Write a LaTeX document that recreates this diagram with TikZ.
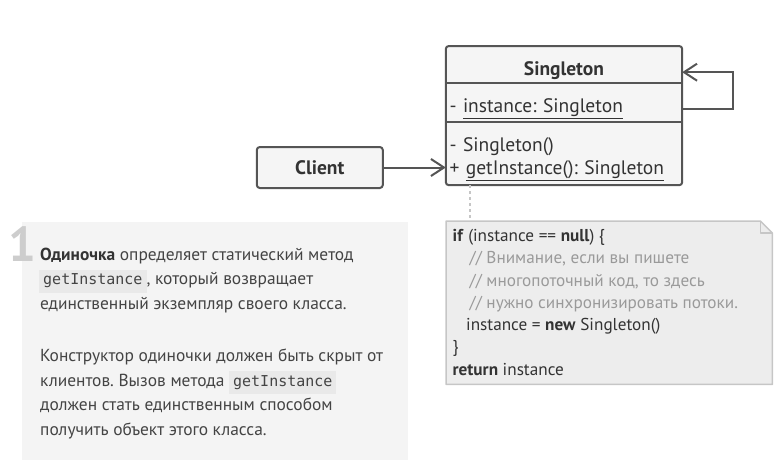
\documentclass[tikz,border=0pt]{standalone}
\usepackage{fontspec}
\setmainfont{PT Sans}
\setmonofont{DejaVu Sans Mono}
\frenchspacing
\usetikzlibrary{positioning,arrows.meta,backgrounds}

\definecolor{linegray}{HTML}{555555}
\definecolor{boxfill}{HTML}{F5F5F5}
\definecolor{textgray}{HTML}{333333}
\definecolor{bodygray}{HTML}{444444}
\definecolor{commentgray}{HTML}{9A9A9A}
\definecolor{panelfill}{HTML}{F4F4F4}
\definecolor{chipfill}{HTML}{E9E9E9}
\definecolor{notefill}{HTML}{EDEDED}
\definecolor{noteline}{HTML}{C6C6C6}
\definecolor{numbergray}{HTML}{CDCDCD}

\newcommand{\codechip}[1]{{\setlength{\fboxsep}{4pt}\smash{\colorbox{chipfill}{\rule[-4pt]{0pt}{13pt}\ttfamily\fontsize{15}{15}\selectfont #1}}}}
\newcommand{\umlstrut}{\rule{0pt}{26pt}}

\tikzset{
  uml/.style={draw=linegray, line width=2pt, fill=boxfill},
  umlpart/.style={minimum width=236pt, inner sep=0pt, text=textgray, font=\fontsize{19.5}{23}\selectfont},
  assoc/.style={draw=linegray, line width=2pt, -{Straight Barb[length=13pt,width=17pt]}},
  noteconn/.style={draw=noteline, line width=1.5pt, dash pattern=on 3pt off 3pt},
  noteframe/.style={draw=noteline, line width=1.5pt, fill=notefill, line join=round},
  codetext/.style={inner sep=0pt, align=left, text=textgray, font=\fontsize{17.2}{22.3}\selectfont},
  desctext/.style={inner sep=0pt, align=left, text=bodygray, font=\fontsize{17.4}{24.5}\selectfont},
}

\begin{document}
\begin{tikzpicture}[x=1pt,y=-1pt]
  \useasboundingbox (0,0) rectangle (780,475);

  % --- Singleton class ---
  \node (head) [umlpart, anchor=north, minimum height=37pt, font=\fontsize{19.5}{23}\selectfont\bfseries] at (564,46) {\umlstrut Singleton};
  \node (attr) [umlpart, below=0pt of head, minimum height=38pt, text width=229pt, align=left] {\umlstrut - \underline{instance: Singleton}};
  \node (meth) [umlpart, below=0pt of attr, minimum height=63pt, text width=229pt, align=left] {\umlstrut - Singleton()\\+ \underline{getInstance(): Singleton}};
  \begin{scope}[on background layer]
    \draw[uml, rounded corners=3pt] (head.north west) rectangle (meth.south east);
  \end{scope}
  \draw[uml, fill=none] (attr.north west) -- (attr.north east);
  \draw[uml, fill=none] (attr.south west) -- (attr.south east);

  % --- Client ---
  \node (client) [uml, rounded corners=3pt, anchor=east, minimum width=126pt, minimum height=41pt, text=textgray, font=\fontsize{19.5}{23}\selectfont\bfseries] at ([xshift=-62pt,yshift=-14pt]meth.west) {Client};

  % --- Associations ---
  \draw[assoc] (client.east) -- (client.east -| meth.west);
  \draw[assoc] ([yshift=-6pt]attr.east) -- ++(51,0) |- ([yshift=-7.5pt]head.east);

  % --- Note with code ---
  \node (note) [inner sep=0pt, anchor=north west, minimum width=326pt, minimum height=163pt] at (446,221) {};
  \filldraw[noteframe] (note.north west) -- ([xshift=-12pt]note.north east) -- ([yshift=-12pt]note.north east) -- (note.south east) -- (note.south west) -- cycle;
  \draw[noteframe, fill=none] ([xshift=-12pt]note.north east) |- ([yshift=-12pt]note.north east);
  \draw[noteconn] ([xshift=24pt]meth.south west) -- ([xshift=24pt]meth.south west |- note.north);
  \node (code) [codetext, anchor=north west] at (452.5,229) {%
    \textbf{if} (instance == \textbf{null}) \{\\
    \hspace*{17pt}{\color{commentgray}// Внимание, если вы пишете}\\
    \hspace*{17pt}{\color{commentgray}// многопоточный код, то здесь}\\
    \hspace*{17pt}{\color{commentgray}// нужно синхронизировать потоки.}\\
    \hspace*{13.5pt}instance = \textbf{new} Singleton()\\
    \}\\
    \textbf{return} instance};

  % --- Description panel ---
  \node (panel) [fill=panelfill, inner sep=0pt, anchor=north west, minimum width=386pt, minimum height=238pt] at (22,222) {};
  \node (num) [inner sep=0pt, anchor=base west, text=numbergray, font=\fontsize{49}{49}\selectfont\bfseries] at (8,261) {1};
  \node (desc) [desctext, anchor=north west] at (40,247.5) {%
    {\color{textgray}\textbf{Одиночка}} определяет статический метод\\
    \hspace*{-1pt}\codechip{getInstance}, который возвращает\\
    единственный экземпляр своего класса.\\[28pt]
    Конструктор одиночки должен быть скрыт от\\
    клиентов. Вызов метода \codechip{getInstance}\\
    должен стать единственным способом\\
    получить объект этого класса.};
\end{tikzpicture}
\end{document}
